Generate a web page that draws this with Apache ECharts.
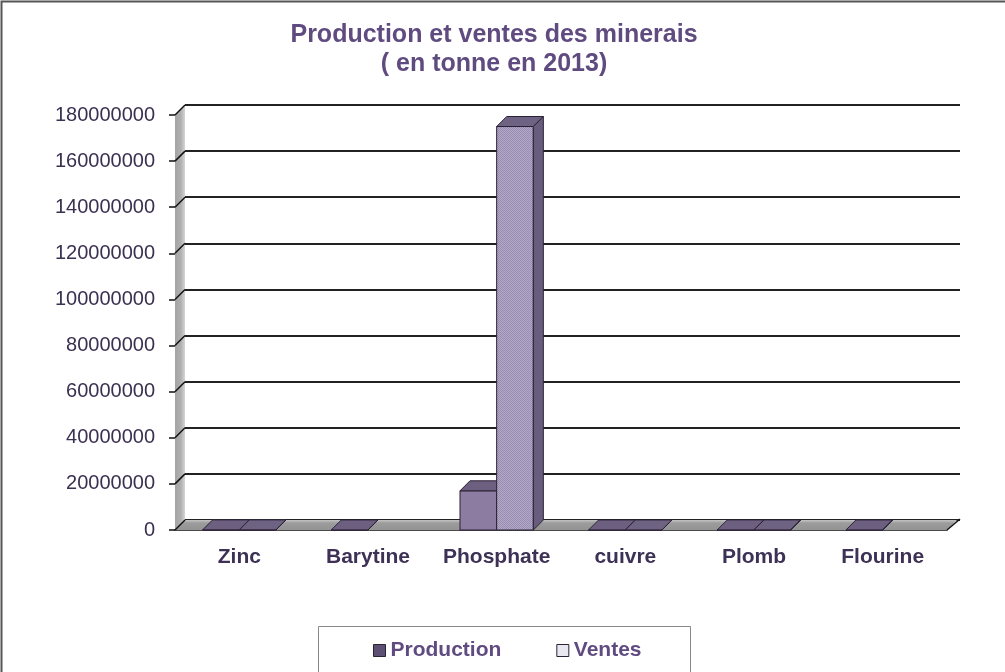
<!DOCTYPE html>
<html>
<head>
<meta charset="utf-8">
<script src="https://cdn.jsdelivr.net/npm/echarts@6/dist/echarts.min.js"></script>
<style>
  html, body { margin: 0; padding: 0; background: #fff; }
  #chart { width: 1005px; height: 672px; }
</style>
</head>
<body>
<div id="chart"></div>
<script>
  // donnees (tonnes, 2013)
  var categories = ['Zinc', 'Barytine', 'Phosphate', 'cuivre', 'Plomb', 'Flourine'];
  var production = [60000, 40000, 17000000, 30000, 50000, 25000];
  var ventes = [55000, null, 175000000, 28000, 45000, null];
  var yMax = 180000000;
  var yStep = 20000000;

  // profondeur de la perspective
  var DX = 10, DY = -10;

  // petite trame pointillee pour les ventes
  var pat = document.createElement('canvas');
  pat.width = 2; pat.height = 2;
  var pctx = pat.getContext('2d');
  pctx.fillStyle = '#b3a9c9'; pctx.fillRect(0, 0, 2, 2);
  pctx.fillStyle = '#988cb0'; pctx.fillRect(0, 0, 1, 1); pctx.fillRect(1, 1, 1, 1);

  var myChart = echarts.init(document.getElementById('chart'));

  function toData(arr) {
    var out = [];
    arr.forEach(function (v, i) { if (v !== null) out.push([i, v]); });
    return out;
  }

  function barRenderer(offset, front, top, side) {
    return function (params, api) {
      var idx = api.value(0);
      var c = api.coord([idx, 0]);
      var bw = api.size([1, 0])[0] * 0.285;
      var x0 = c[0] + offset * bw;
      var yb = c[1];
      var yt = api.coord([idx, api.value(1)])[1];
      var stroke = { stroke: '#2b2236', lineWidth: 1 };
      return {
        type: 'group',
        children: [
          { type: 'rect', shape: { x: x0, y: yt, width: bw, height: yb - yt },
            style: Object.assign({ fill: front }, stroke) },
          { type: 'polygon', shape: { points: [[x0, yt], [x0 + DX, yt + DY], [x0 + bw + DX, yt + DY], [x0 + bw, yt]] },
            style: Object.assign({ fill: top }, stroke) },
          { type: 'polygon', shape: { points: [[x0 + bw, yt], [x0 + bw + DX, yt + DY], [x0 + bw + DX, yb + DY], [x0 + bw, yb]] },
            style: Object.assign({ fill: side }, stroke) }
        ]
      };
    };
  }

  // mur gauche, sol et aretes des graduations
  function decorRenderer(params, api) {
    var r = params.coordSys;
    var x0 = r.x, x1 = r.x + r.width, yT = r.y, yB = r.y + r.height;
    var kids = [
      { type: 'polygon', shape: { points: [[x0, yT], [x0 + DX, yT + DY], [x0 + DX, yB + DY], [x0, yB]] },
        style: { fill: new echarts.graphic.LinearGradient(0, 0, 1, 0, [
          { offset: 0, color: '#a3a3a3' }, { offset: 0.6, color: '#b0b0b0' }, { offset: 1, color: '#d6d6d6' }]) } },
      { type: 'polygon', shape: { points: [[x0, yB], [x0 + DX, yB + DY], [x1 + DX, yB + DY], [x1, yB]] },
        style: { fill: new echarts.graphic.LinearGradient(0, 0, 0, 1, [
          { offset: 0, color: '#c4c4c4' }, { offset: 0.3, color: '#9c9c9c' }, { offset: 1, color: '#939393' }]) } },
      { type: 'line', shape: { x1: x1, y1: yB, x2: x1 + DX + 3, y2: yB + DY - 1 },
        style: { stroke: '#111', lineWidth: 1.5 } }
    ];
    for (var v = 0; v <= yMax; v += yStep) {
      var p = api.coord([0, v]);
      kids.push({ type: 'line', shape: { x1: x0, y1: p[1], x2: x0 + DX, y2: p[1] + DY },
        style: { stroke: '#111', lineWidth: 1.5 } });
    }
    return { type: 'group', children: kids };
  }

  var fontFam = '"Liberation Sans", Arial, sans-serif';

  myChart.setOption({
    animation: false,
    title: {
      text: 'Production et ventes des minerais\n( en tonne en 2013)',
      left: 489, top: 16, textAlign: 'center',
      textStyle: { fontFamily: fontFam, fontSize: 25, fontWeight: 'bold', color: '#5f4b80', lineHeight: 29, align: 'center' }
    },
    legend: {
      left: 368, top: 635,
      itemWidth: 12, itemHeight: 12, itemGap: 55,
      textStyle: { fontFamily: fontFam, fontSize: 21, fontWeight: 'bold', color: '#5f4b80' },
      data: [
        { name: 'Production', icon: 'rect', itemStyle: { color: '#5d5075', borderColor: '#2b2236', borderWidth: 1 } },
        { name: 'Ventes', icon: 'rect', itemStyle: { color: '#e9e7ef', borderColor: '#2b2236', borderWidth: 1 } }
      ]
    },
    grid: [
      { left: 175, right: 58, top: 115, bottom: 142 },
      { left: 185, right: 45, top: 105, bottom: 152 }
    ],
    xAxis: [
      {
        type: 'category', gridIndex: 0, data: categories,
        axisLine: { lineStyle: { color: '#111', width: 1.5 } },
        axisTick: { length: 6, lineStyle: { color: '#111' } },
        axisLabel: { interval: 0, margin: 17, fontFamily: fontFam, fontSize: 21, fontWeight: 'bold', color: '#3d3155' }
      },
      { type: 'category', gridIndex: 1, data: categories, show: false }
    ],
    yAxis: [
      {
        type: 'value', gridIndex: 0, min: 0, max: yMax, interval: yStep,
        axisLine: { show: false },
        axisTick: { show: true, length: 6, lineStyle: { color: '#111', width: 1.5 } },
        splitLine: { show: false },
        axisLabel: { margin: 20, fontFamily: fontFam, fontSize: 20, color: '#3a3050',
          formatter: function (v) { return String(v); } }
      },
      {
        type: 'value', gridIndex: 1, min: 0, max: yMax, interval: yStep,
        axisLine: { show: false }, axisTick: { show: false }, axisLabel: { show: false },
        splitLine: { show: true, lineStyle: { color: '#222', width: 1.8 } }
      }
    ],
    graphic: [
      { type: 'rect', shape: { x: 1.5, y: 1.5, width: 1010, height: 680 },
        style: { fill: null, stroke: '#555', lineWidth: 2 }, z: -1 },
      { type: 'rect', shape: { x: 318.5, y: 626.5, width: 372, height: 60 },
        style: { fill: null, stroke: '#888', lineWidth: 1 }, z: -1 }
    ],
    series: [
      { type: 'custom', name: 'decor', xAxisIndex: 0, yAxisIndex: 0, data: [[0, 0]],
        renderItem: decorRenderer, silent: true, z: 1 },
      { type: 'custom', name: 'Production', xAxisIndex: 0, yAxisIndex: 0,
        encode: { x: 0, y: 1 }, data: toData(production), z: 3,
        itemStyle: { color: '#8c7ca1' },
        renderItem: barRenderer(-1, '#8c7ca1', '#6c5f80', '#62567a') },
      { type: 'custom', name: 'Ventes', xAxisIndex: 0, yAxisIndex: 0,
        encode: { x: 0, y: 1 }, data: toData(ventes), z: 4,
        itemStyle: { color: '#ada3c3' },
        renderItem: barRenderer(0, { image: pat, repeat: 'repeat' }, '#6f6383', '#695d7d') }
    ]
  });
</script>
</body>
</html>
